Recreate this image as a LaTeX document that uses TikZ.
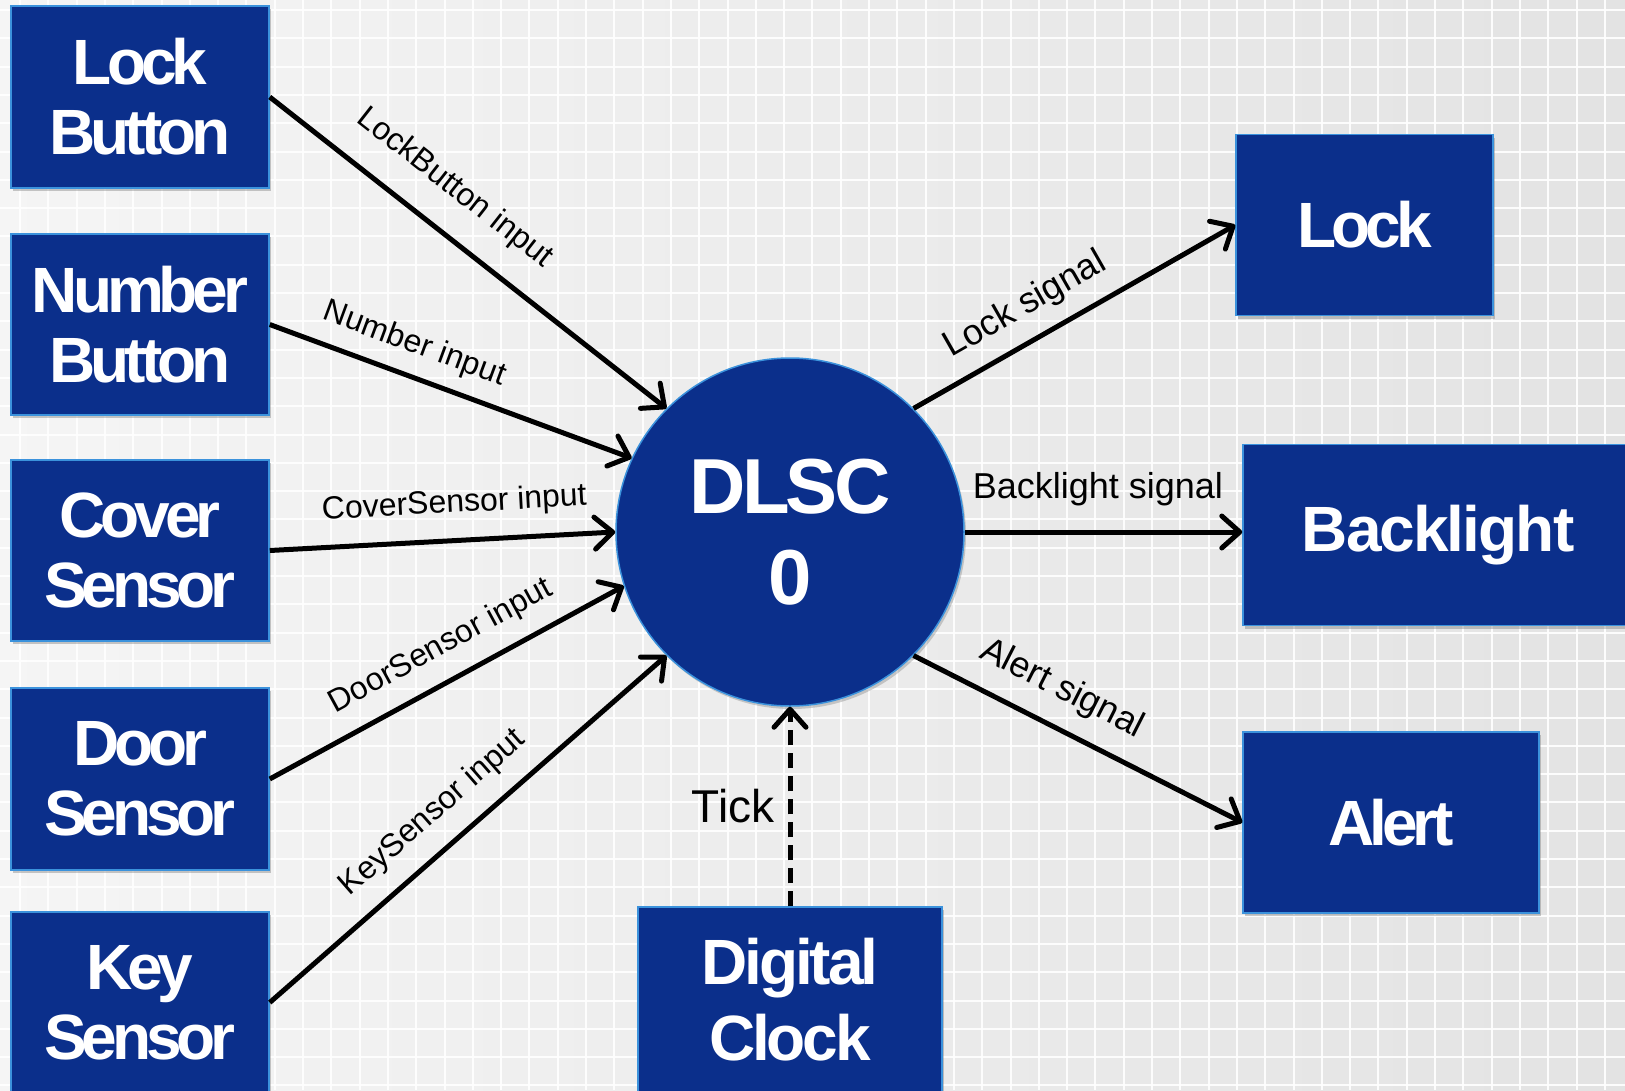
\documentclass[tikz,border=0pt]{standalone}
\usepackage{fontspec}
\setmainfont{Liberation Sans}
\newfontfamily\bxfont{Liberation Sans}[LetterSpace=-8]
\newfontfamily\bxfontB{Liberation Sans}[LetterSpace=-3]
\newfontfamily\bxfontC{Liberation Sans}[LetterSpace=-5]
\usetikzlibrary{arrows.meta,shadows}
\definecolor{boxblue}{HTML}{0B2F8B}
\definecolor{edgeblue}{HTML}{3B92DC}
\begin{document}
\begin{tikzpicture}[x=1pt,y=-1pt,
  blk/.style={draw=edgeblue, line width=1.5pt, fill=boxblue, text=white,
    align=center, inner sep=0pt,
    font=\bxfont\bfseries\fontsize{64}{70}\selectfont,
    drop shadow={shadow xshift=2pt, shadow yshift=-3pt, opacity=0.35, fill=black!60}},
  arr/.style={-{Straight Barb[length=18pt,width=32pt,round]}, line width=5pt, black},
  lblL/.style={font=\fontsize{32}{36}\selectfont, inner sep=0pt, sloped},
  lblR/.style={font=\fontsize{36}{40}\selectfont, inner sep=0pt, sloped}]
\useasboundingbox (0,0) rectangle (1625,1090);
\shade[left color=black!4, right color=black!11] (0,0) rectangle (1625,1090);
\foreach \i in {0,...,57} \draw[white, line width=2pt, opacity=0.9] ({20+28.3*\i},0) -- ({20+28.3*\i},1090);
\foreach \i in {0,...,38} \draw[white, line width=2pt, opacity=0.9] (0,{10+28.3*\i}) -- (1625,{10+28.3*\i});

% left boxes
\node[blk, minimum width=258pt, minimum height=182pt] (lb) at (140,97) {Lock\\Button};
\node[blk, minimum width=258pt, minimum height=181pt] (nb) at (140,324.5) {Number\\Button};
\node[blk, minimum width=258pt, minimum height=181pt] (cs) at (140,550.5) {Cover\\Sensor};
\node[blk, minimum width=258pt, minimum height=182pt] (ds) at (140,779) {Door\\Sensor};
\node[blk, minimum width=258pt, minimum height=181pt] (ks) at (140,1002.5) {Key\\Sensor};

% right boxes
\node[blk, minimum width=257pt, minimum height=181pt] (lk) at (1364.5,225) {Lock};
\node[blk, minimum width=390pt, minimum height=181pt, font=\bxfontB\bfseries\fontsize{64}{70}\selectfont] (bl) at (1438,535) {Backlight};
\node[blk, minimum width=296pt, minimum height=181pt] (al) at (1391,822.5) {Alert};

% bottom box
\node[blk, minimum width=304pt, minimum height=186pt, font=\bxfontC\bfseries\fontsize{64}{76}\selectfont] (dc) at (790,1000) {Digital\\Clock};

% center process
\node[circle, draw=edgeblue, line width=1.5pt, fill=boxblue, text=white, align=center,
  minimum size=348pt, inner sep=0pt,
  font=\bxfontC\bfseries\fontsize{78}{91}\selectfont,
  drop shadow={shadow xshift=2pt, shadow yshift=-3pt, opacity=0.3, fill=black!60}] (c) at (790,532) {DLSC\\0};

% inputs
\draw[arr] (lb.east) -- (c.135) node[lblL, above=25pt, pos=0.40] {LockButton input};
\draw[arr] (nb.east) -- (c.155) node[lblL, above=14pt, pos=0.37] {Number input};
\draw[arr] (cs.east) -- (c.180) node[lblL, above=19pt, pos=0.54] {CoverSensor input};
\draw[arr] (ds.east) -- (c.198) node[lblL, above=17pt, pos=0.53] {DoorSensor input};
\draw[arr] (ks.east) -- (c.225) node[lblL, above=18pt, pos=0.47] {KeySensor input};

% outputs
\draw[arr] (c.45) -- (lk.west) node[lblR, above=15pt, pos=0.40] {Lock signal};
\draw[arr] (c.east) -- (c.east -| bl.west) node[lblR, above=24pt, pos=0.48] {Backlight signal};
\draw[arr] (c.-45) -- (al.west) node[lblR, above=18pt, pos=0.40] {Alert signal};

% clock
\draw[arr, dash pattern=on 15pt off 8pt] (dc.north) -- (c.south)
  node[pos=0.5, left=13pt, inner sep=0pt, font=\fontsize{46}{50}\selectfont] {Tick};
\end{tikzpicture}
\end{document}
